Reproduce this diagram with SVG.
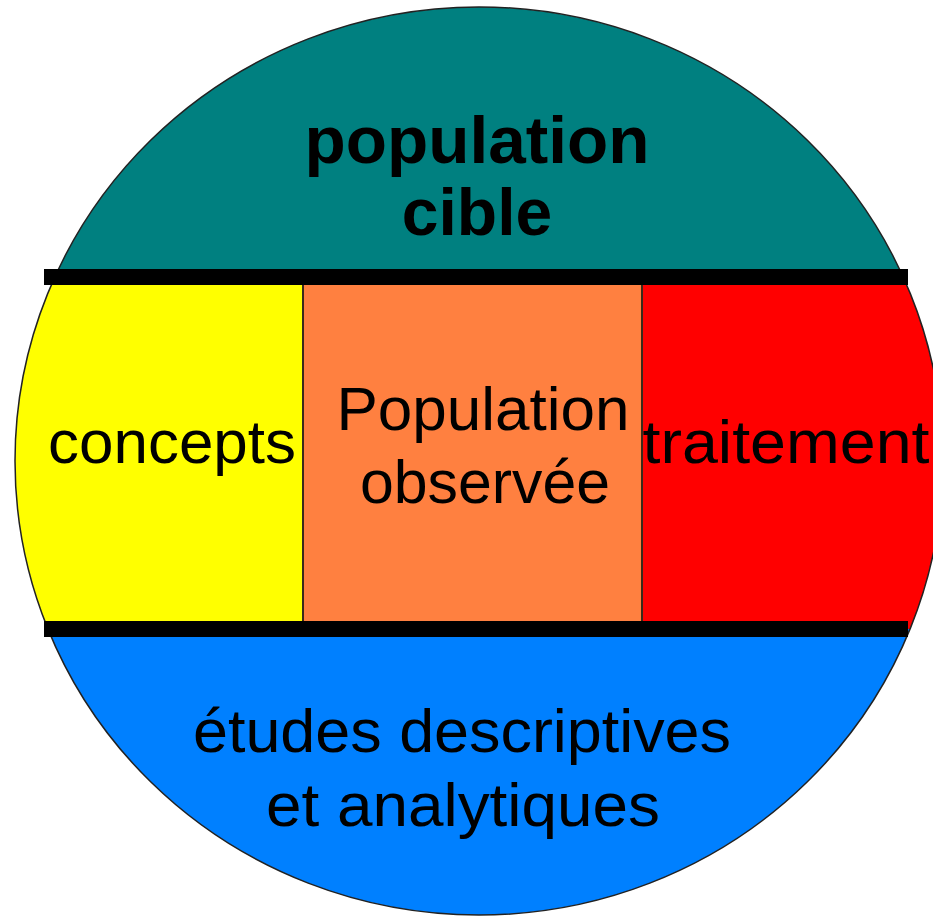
<svg xmlns="http://www.w3.org/2000/svg" width="933" height="917" viewBox="0 0 933 917">
  <style>
    .lbl { font-family: "Liberation Sans", Arial, sans-serif; fill: #000; text-anchor: middle; }
    .bold { font-weight: bold; font-size: 66px; }
    .reg { font-size: 62px; }
    .bar { fill: #000; }
    .div { stroke: #3a2a1a; stroke-width: 2; }
  </style>
  <defs>
    <clipPath id="disc">
      <ellipse cx="479" cy="461" rx="464" ry="454"/>
    </clipPath>
  </defs>
  <rect width="933" height="917" fill="#fff"/>

  <!-- coloured bands inside the disc -->
  <g clip-path="url(#disc)">
    <g id="cible"><rect x="0" y="0" width="960" height="277" fill="#008080"/></g>
    <g id="concepts-band"><rect x="0" y="277" width="303" height="352" fill="#ffff00"/></g>
    <g id="observee-band"><rect x="303" y="277" width="339" height="352" fill="#ff8040"/></g>
    <g id="traitement-band"><rect x="642" y="277" width="318" height="352" fill="#ff0000"/></g>
    <g id="etudes"><rect x="0" y="629" width="960" height="300" fill="#0080ff"/></g>
  </g>
  <ellipse cx="479" cy="461" rx="464" ry="454" fill="none" stroke="#222" stroke-width="1.5"/>

  <!-- separators -->
  <g id="connectors">
    <line class="div" x1="303" y1="277" x2="303" y2="629"/>
    <line class="div" x1="642" y1="277" x2="642" y2="629"/>
    <rect class="bar" x="44" y="269" width="864" height="16"/>
    <rect class="bar" x="44" y="621" width="864" height="16"/>
  </g>

  <!-- labels -->
  <g id="label-cible">
    <text class="lbl bold" x="477" y="163" textLength="345" lengthAdjust="spacingAndGlyphs">population</text>
    <text class="lbl bold" x="477" y="235">cible</text>
  </g>
  <g id="label-concepts">
    <text class="lbl reg" x="172" y="463" textLength="248" lengthAdjust="spacingAndGlyphs">concepts</text>
  </g>
  <g id="label-observee">
    <text class="lbl reg" x="483" y="430" textLength="293" lengthAdjust="spacingAndGlyphs">Population</text>
    <text class="lbl reg" x="485" y="503" textLength="250" lengthAdjust="spacingAndGlyphs">observée</text>
  </g>
  <g id="label-traitement">
    <text class="lbl reg" x="786" y="463" textLength="287" lengthAdjust="spacingAndGlyphs">traitement</text>
  </g>
  <g id="label-etudes">
    <text class="lbl reg" x="462" y="752" textLength="538" lengthAdjust="spacingAndGlyphs">études descriptives</text>
    <text class="lbl reg" x="463" y="826" textLength="394" lengthAdjust="spacingAndGlyphs">et analytiques</text>
  </g>
</svg>
